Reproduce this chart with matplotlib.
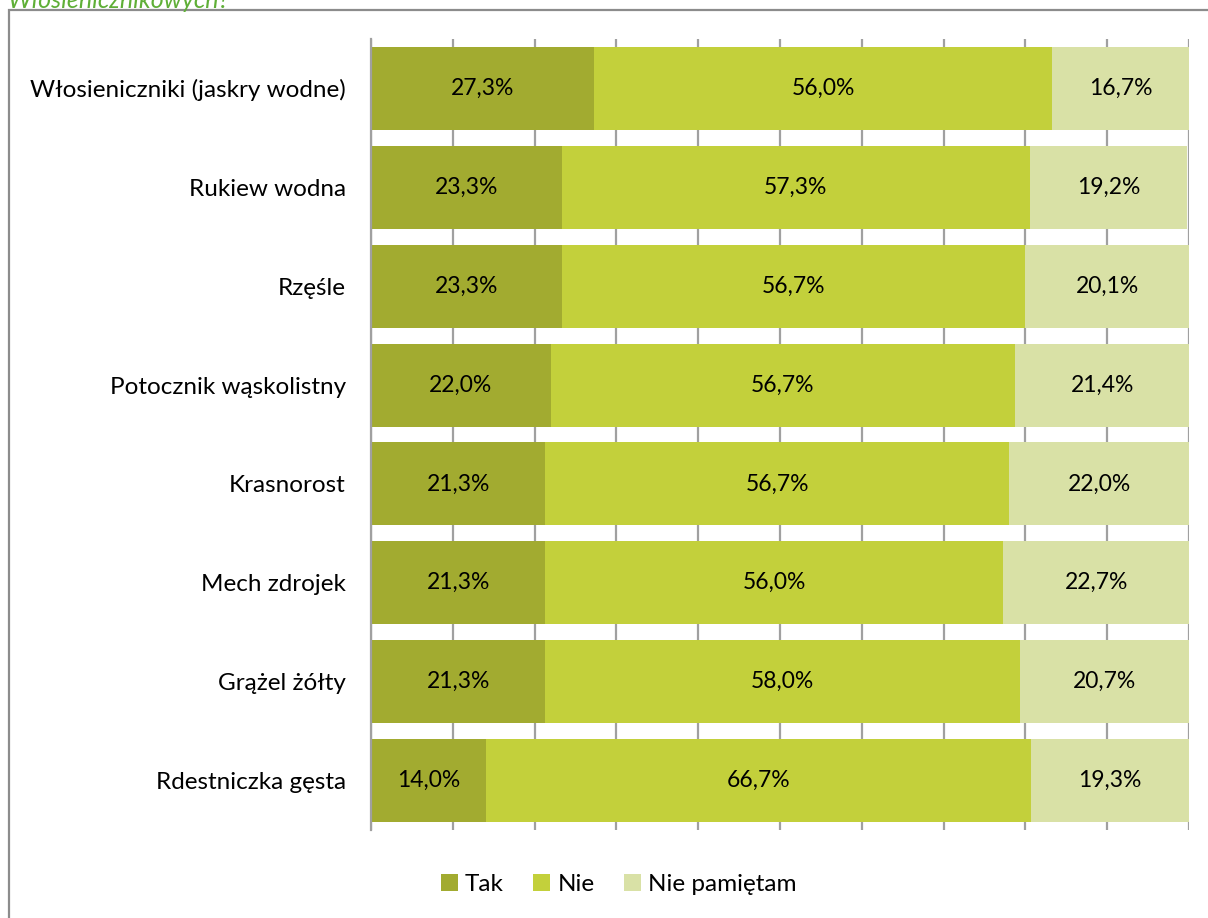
import numpy as np
import matplotlib
matplotlib.use('Agg')
import matplotlib.pyplot as plt
from matplotlib.patches import Rectangle

plt.rcParams['font.family'] = ['Lato', 'DejaVu Sans']

gatunki = ['Włosieniczniki (jaskry wodne)', 'Rukiew wodna', 'Rzęśle', 'Potocznik wąskolistny',
           'Krasnorost', 'Mech zdrojek', 'Grążel żółty', 'Rdestniczka gęsta']
tak = [27.3, 23.3, 23.3, 22.0, 21.3, 21.3, 21.3, 14.0]
nie = [56.0, 57.3, 56.7, 56.7, 56.7, 56.0, 58.0, 66.7]
nie_pam = [16.7, 19.2, 20.1, 21.4, 22.0, 22.7, 20.7, 19.3]
serie = ['Tak', 'Nie', 'Nie pamiętam']
kolory = ['#A2AB30', '#C3D03B', '#D9E1A6']

fig = plt.figure(figsize=(12.08, 9.18), dpi=100)
ax = fig.add_axes([0.3071, 0.0959, 0.6772, 0.8616])

y = np.arange(len(gatunki))
left = np.zeros(len(gatunki))
for wart, kol, naz in zip([tak, nie, nie_pam], kolory, serie):
    wart = np.array(wart)
    ax.barh(y, wart, left=left, height=0.84, color=kol, label=naz, zorder=2)
    for yi, l, w in zip(y, left, wart):
        ax.text(l + w / 2, yi, f'{w:.1f}%'.replace('.', ','), ha='center', va='center',
                fontsize=16.5, color='black', zorder=3)
    left += wart

ax.set_xlim(0, 100)
ax.set_ylim(len(gatunki) - 0.5, -0.5)
ax.set_xticks(np.arange(0, 101, 10))
ax.set_xticklabels([])
ax.tick_params(axis='x', length=0)
ax.tick_params(axis='y', length=0, pad=18, labelsize=17.5)
ax.set_yticks(y)
ax.set_yticklabels(gatunki)
ax.grid(axis='x', color='#A0A0A0', linewidth=1.6, zorder=0)
for s in ['top', 'right', 'bottom']:
    ax.spines[s].set_visible(False)
ax.spines['left'].set_color('#A0A0A0')
ax.spines['left'].set_linewidth(1.6)

fig.legend(loc='center', bbox_to_anchor=(0.512, 0.037), ncol=3, frameon=False,
           fontsize=17.5, handlelength=0.7, handleheight=0.7, handletextpad=0.3,
           columnspacing=1.2)

# ramka wykresu
fig.patches.append(Rectangle((0.0075, -0.05), 1.05, 1.039, transform=fig.transFigure,
                             fill=False, edgecolor='#8C8C8C', linewidth=1.6))
fig.text(0.006, 0.999, 'Włosienicznikowych?', color='#5FAF37', style='italic',
         fontsize=18, ha='left', va='center')

fig.savefig('out.png', dpi=100)
